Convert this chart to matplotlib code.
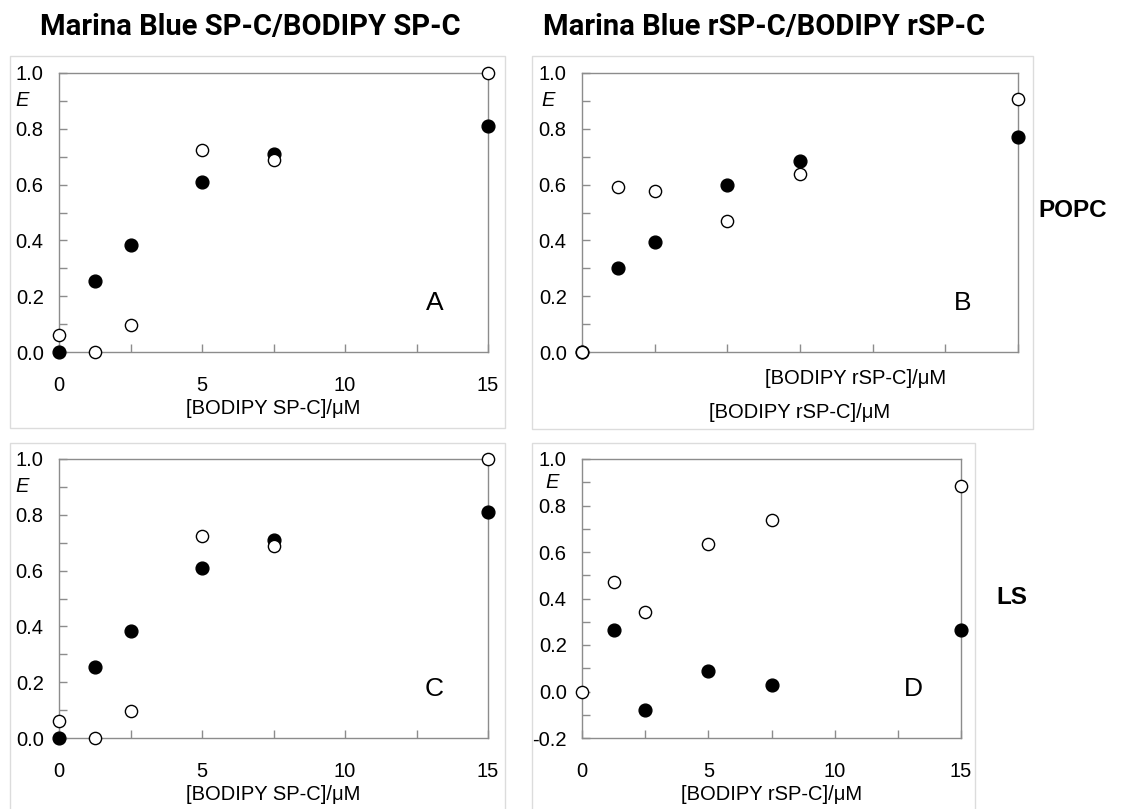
import numpy as np
import matplotlib
matplotlib.use("Agg")
import matplotlib.pyplot as plt
from matplotlib.patches import Rectangle

plt.rcParams['font.family'] = ['Liberation Sans', 'DejaVu Sans']

# [BODIPY] concentration, uM
conc = [0, 1.25, 2.5, 5, 7.5, 15]

# SP-C (panels A and C share the same values)
spc_open = [0.06, 0.0, 0.098, 0.724, 0.687, 1.0]
spc_filled = [0.0, 0.254, 0.382, 0.608, 0.711, 0.809]

# rSP-C in POPC (panel B)
rspc_popc_open = [0.0, 0.590, 0.576, 0.470, 0.637, 0.906]
rspc_popc_filled = [0.0, 0.302, 0.393, 0.599, 0.686, 0.771]

# rSP-C in LS (panel D)
rspc_ls_open = [0.0, 0.473, 0.341, 0.634, 0.737, 0.886]
rspc_ls_filled = [np.nan, 0.265, -0.079, 0.089, 0.029, 0.265]

W, H = 1122, 809
fig = plt.figure(figsize=(W / 100, H / 100), dpi=100)


def px_axes(x0, y0, x1, y1):
    return fig.add_axes([x0 / W, 1 - y1 / H, (x1 - x0) / W, (y1 - y0) / H])


def panel_box(x0, y0, x1, y1):
    fig.patches.append(Rectangle((x0 / W, 1 - y1 / H), (x1 - x0) / W, (y1 - y0) / H,
                                 transform=fig.transFigure, fill=False,
                                 edgecolor='#dcdcdc', lw=1.0, zorder=0))


panel_box(10, 56, 505, 428)
panel_box(532, 56, 1033, 429)
panel_box(10, 443, 505, 812)
panel_box(532, 443, 975, 812)

frame = '#8c8c8c'


def style(ax, ymin, xlabels=True, e_x=-0.086):
    ax.set_xlim(0, 15)
    ax.set_ylim(ymin, 1.0)
    ax.set_xticks(np.arange(0, 15.1, 2.5), minor=True)
    ax.set_yticks(np.arange(ymin, 1.01, 0.1), minor=True)
    ax.set_yticks(np.arange(ymin, 1.01, 0.2))
    ax.set_yticklabels(['%.1f' % v if abs(v) > 1e-9 else '0.0' for v in np.arange(ymin, 1.01, 0.2)])
    if xlabels:
        ax.set_xticks([0, 5, 10, 15])
    else:
        ax.set_xticks([])
    for s in ax.spines.values():
        s.set_color(frame)
        s.set_linewidth(1.0)
    ax.tick_params(which='both', direction='in', color=frame, width=1.0,
                   labelsize=14.5, top=False, right=False)
    ax.tick_params(which='major', length=6)
    ax.tick_params(which='minor', length=6)
    ax.tick_params(axis='y', pad=11)
    ax.tick_params(axis='x', pad=17)
    ax.text(e_x, 0.9, 'E', style='italic', fontsize=14.5, ha='center', va='center',
            transform=ax.get_yaxis_transform())


def points(ax, open_vals, filled_vals):
    ax.plot(conc, filled_vals, 'o', color='black', ms=9.2, mec='black', clip_on=False, zorder=3)
    ax.plot(conc, open_vals, 'o', mfc='white', mec='black', ms=8.8, mew=1.0, clip_on=False, zorder=4)


axA = px_axes(59, 73, 488, 352)
points(axA, spc_open, spc_filled)
style(axA, 0.0)
axA.set_xlabel('[BODIPY SP-C]/\u03bcM', fontsize=14.5, labelpad=3)
axA.text(0.875, 0.175, 'A', fontsize=19, ha='center', va='center', transform=axA.transAxes)

axB = px_axes(582, 73, 1018, 352)
points(axB, rspc_popc_open, rspc_popc_filled)
style(axB, 0.0, xlabels=False, e_x=-0.078)
axB.set_xlabel('[BODIPY rSP-C]/\u03bcM', fontsize=14.5, labelpad=33)
axB.text(0.628, -0.095, '[BODIPY rSP-C]/\u03bcM', fontsize=14.5, ha='center', va='center',
         transform=axB.transAxes)
axB.text(0.872, 0.175, 'B', fontsize=19, ha='center', va='center', transform=axB.transAxes)

axC = px_axes(59, 459, 488, 738)
points(axC, spc_open, spc_filled)
style(axC, 0.0)
axC.set_xlabel('[BODIPY SP-C]/\u03bcM', fontsize=14.5, labelpad=3)
axC.text(0.875, 0.175, 'C', fontsize=19, ha='center', va='center', transform=axC.transAxes)

axD = px_axes(582, 459, 961, 738)
points(axD, rspc_ls_open, rspc_ls_filled)
style(axD, -0.2, e_x=-0.079)
axD.set_xlabel('[BODIPY rSP-C]/\u03bcM', fontsize=14.5, labelpad=3)
axD.text(0.875, 0.175, 'D', fontsize=19, ha='center', va='center', transform=axD.transAxes)

fig.text(250 / W, 1 - 27 / H, 'Marina Blue SP-C/BODIPY SP-C', fontsize=21, fontweight='bold',
         family=['Roboto', 'DejaVu Sans'], ha='center', va='center')
fig.text(764 / W, 1 - 27 / H, 'Marina Blue rSP-C/BODIPY rSP-C', fontsize=21, fontweight='bold',
         family=['Roboto', 'DejaVu Sans'], ha='center', va='center')
fig.text(1073 / W, 1 - 211 / H, 'POPC', fontsize=17.5, fontweight='bold', ha='center', va='center')
fig.text(1012 / W, 1 - 597 / H, 'LS', fontsize=17.5, fontweight='bold', ha='center', va='center')

fig.savefig('out.png', dpi=100, facecolor='white')
